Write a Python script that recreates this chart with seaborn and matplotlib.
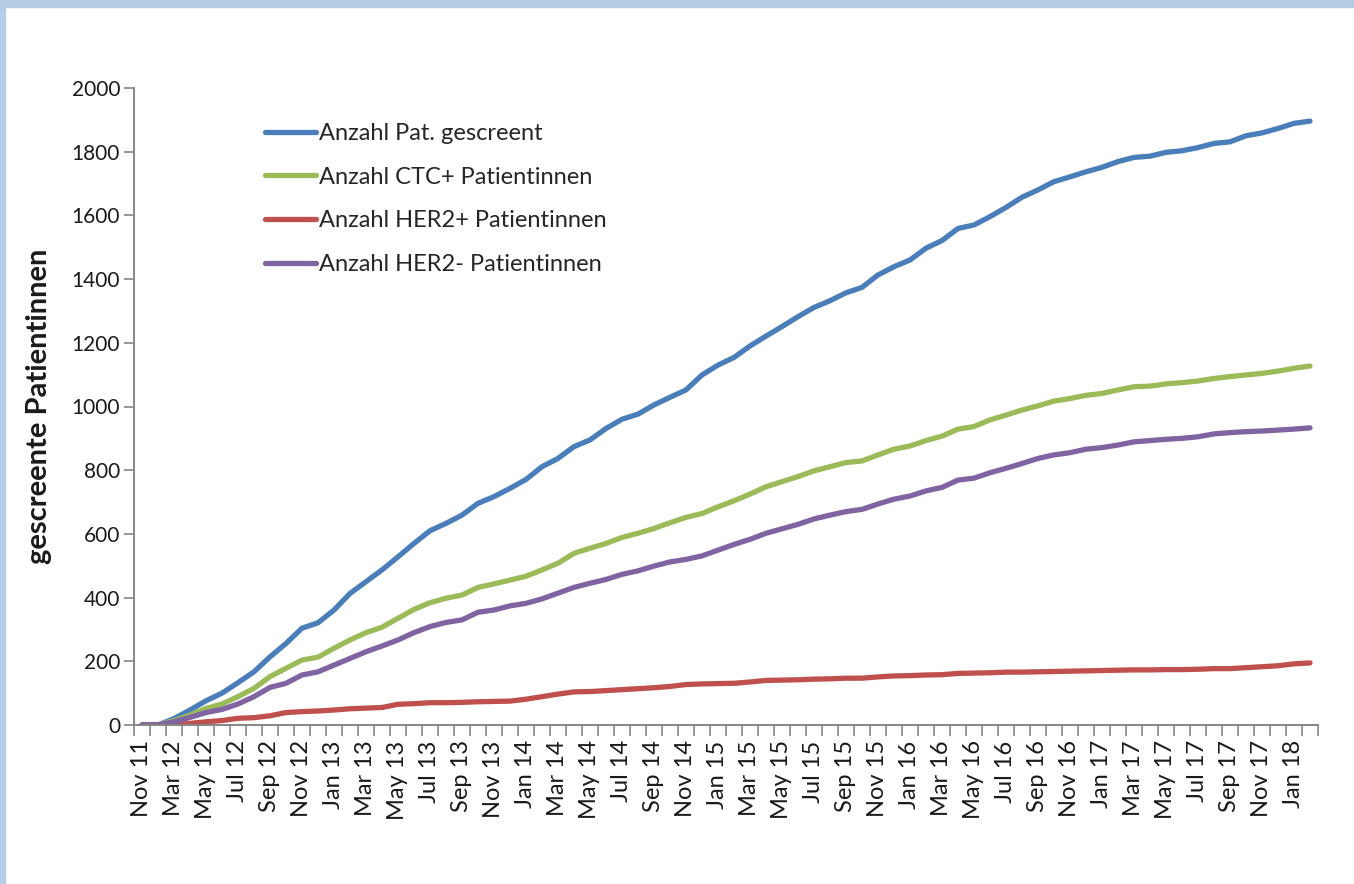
import numpy as np
import pandas as pd
import matplotlib
matplotlib.use("Agg")
import matplotlib.pyplot as plt
from matplotlib.patches import Rectangle
from matplotlib.ticker import FixedLocator, MultipleLocator
import seaborn as sns

# monthly categories (first point Nov 11, then Feb 12 .. Feb 18)
months = ["Nov 11"] + [d.strftime("%b %y") for d in
                       pd.date_range("2012-02-01", "2018-02-01", freq="MS")]

screened = [0, 0, 20, 47, 76, 100, 133, 167, 214, 256,
            304, 321, 361, 413, 450, 487, 528, 570, 610, 633,
            659, 696, 717, 743, 771, 811, 837, 874, 895, 931,
            960, 976, 1005, 1029, 1052, 1099, 1130, 1154, 1190, 1221,
            1251, 1282, 1311, 1332, 1357, 1374, 1413, 1439, 1460, 1497,
            1521, 1559, 1570, 1596, 1625, 1657, 1680, 1706, 1721, 1737,
            1751, 1769, 1782, 1786, 1798, 1803, 1813, 1826, 1831, 1850,
            1859, 1873, 1889, 1896]
ctc_pos = [0, 0, 14, 31, 52, 66, 89, 115, 152, 178,
           204, 213, 241, 267, 290, 307, 335, 363, 384, 398,
           408, 432, 443, 455, 467, 487, 508, 539, 555, 570,
           589, 602, 617, 635, 652, 664, 685, 704, 725, 748,
           764, 780, 798, 811, 824, 829, 848, 866, 876, 893,
           907, 929, 937, 958, 973, 989, 1002, 1017, 1025, 1035,
           1041, 1052, 1062, 1064, 1071, 1075, 1080, 1088, 1094, 1099,
           1104, 1111, 1120, 1127]
her2_pos = [0, 0, 2, 5, 10, 14, 21, 23, 29, 39,
            42, 44, 47, 51, 53, 55, 65, 67, 70, 70,
            71, 73, 74, 75, 81, 89, 97, 104, 105, 108,
            111, 114, 117, 121, 127, 129, 130, 131, 135, 140,
            141, 142, 144, 145, 147, 147, 151, 154, 155, 157,
            158, 162, 163, 164, 166, 166, 167, 168, 169, 170,
            171, 172, 173, 173, 174, 174, 175, 177, 177, 180,
            183, 186, 192, 195]
her2_neg = [0, 0, 10, 24, 39, 49, 66, 89, 118, 131,
            157, 167, 188, 209, 230, 248, 267, 290, 309, 322,
            330, 354, 361, 374, 382, 396, 414, 432, 445, 457,
            473, 484, 499, 512, 520, 531, 549, 567, 583, 602,
            616, 630, 647, 659, 670, 677, 694, 709, 719, 735,
            746, 769, 775, 792, 806, 821, 837, 848, 855, 866,
            871, 879, 889, 893, 897, 900, 905, 914, 918, 921,
            923, 926, 929, 933]

series_names = ["Anzahl Pat. gescreent", "Anzahl CTC+ Patientinnen",
                "Anzahl HER2+ Patientinnen", "Anzahl HER2- Patientinnen"]
colors = ["#4A7EBB", "#9BBB59", "#C0504D", "#8064A2"]

df = pd.DataFrame({"idx": np.arange(len(months)),
                   series_names[0]: screened,
                   series_names[1]: ctc_pos,
                   series_names[2]: her2_pos,
                   series_names[3]: her2_neg})
long = df.melt(id_vars="idx", var_name="series", value_name="value")

sns.set_style("white")
plt.rcParams["font.family"] = ["Lato", "DejaVu Sans"]
plt.rcParams["lines.solid_capstyle"] = "round"
plt.rcParams["lines.solid_joinstyle"] = "round"

fig = plt.figure(figsize=(13.54, 8.84), dpi=100)
fig.patches.append(Rectangle((0, 1 - 7 / 884), 1, 7 / 884, transform=fig.transFigure,
                             color="#B4CDE4", zorder=0))
fig.patches.append(Rectangle((0, 0), 5 / 1354, 1, transform=fig.transFigure,
                             color="#B4CDE4", zorder=0))
ax = fig.add_axes([134 / 1354, 1 - 725 / 884, (1318 - 134) / 1354, (725 - 88) / 884])

sns.lineplot(data=long, x="idx", y="value", hue="series", hue_order=series_names,
             palette=colors, linewidth=3.8, ax=ax, sort=False)

ax.set_xlim(-0.5, len(months) - 0.5)
ax.set_ylim(0, 2000)
ax.yaxis.set_major_locator(MultipleLocator(200))
ax.tick_params(axis="y", which="major", direction="out", length=7, width=1.2,
               color="#868686", labelsize=15, labelcolor="#1a1a1a", pad=3, left=True)

ax.xaxis.set_major_locator(FixedLocator(np.arange(0, len(months), 2)))
ax.set_xticklabels(months[::2], rotation=90)
ax.xaxis.set_minor_locator(FixedLocator(np.arange(-0.5, len(months), 1)))
ax.tick_params(axis="x", which="major", length=0, labelsize=17, labelcolor="#1a1a1a", pad=11)
ax.tick_params(axis="x", which="minor", direction="out", length=8, width=1.2,
               color="#868686", bottom=True)

for side in ["top", "right"]:
    ax.spines[side].set_visible(False)
for side in ["left", "bottom"]:
    ax.spines[side].set_color("#868686")
    ax.spines[side].set_linewidth(1.4)

ax.set_xlabel("")
ax.set_ylabel("gescreente Patientinnen", fontsize=21, fontweight="bold", color="#1a1a1a")
ax.yaxis.set_label_coords(-0.069, 0.5)

handles, labels = ax.get_legend_handles_labels()
ax.legend(handles, labels, loc="upper left", bbox_to_anchor=(0.103, 0.96),
          frameon=False, fontsize=17, handlelength=2.15, handletextpad=0.13,
          labelspacing=0.96, borderaxespad=0)

fig.savefig("out.png", dpi=100)
